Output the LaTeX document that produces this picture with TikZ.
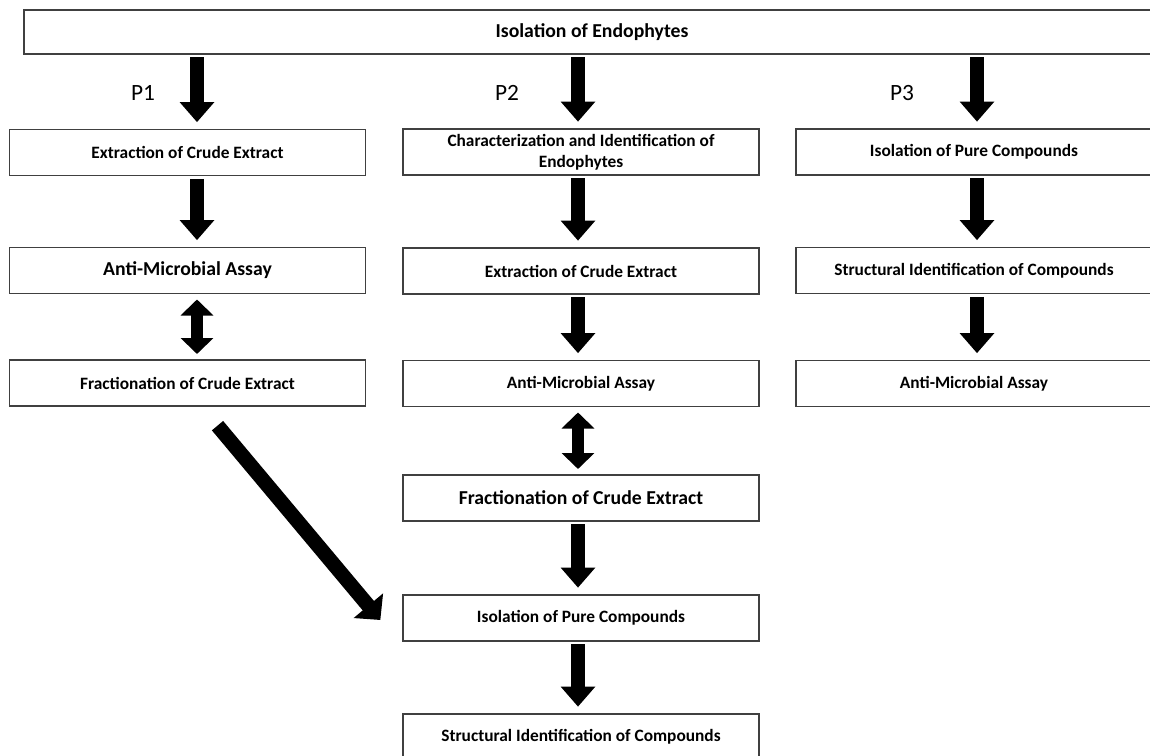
\documentclass[tikz,border=0pt]{standalone}
\usepackage{fontspec}
\setmainfont{Carlito}
\usetikzlibrary{arrows.meta,calc}

\begin{document}
\begin{tikzpicture}[x=0.75pt, y=-0.75pt,
  box/.style={draw=black!75, line width=1pt, fill=white, minimum width=267pt,
    minimum height=34.5pt, inner sep=0pt, align=center,
    font=\bfseries\fontsize{13}{16}\selectfont},
  bigbox/.style={box, font=\bfseries\fontsize{14.8}{17}\selectfont},
  plabel/.style={font=\fontsize{17.5}{20}\selectfont},
  bigarrow/.style={line width=10pt, -{Triangle[width=25pt,length=15pt]},
    shorten <=2pt, shorten >=5pt},
  twoway/.style={line width=8.5pt,
    {Triangle[width=24pt,length=12pt]}-{Triangle[width=24pt,length=12pt]},
    shorten <=4pt, shorten >=4pt},
  slant/.style={line width=11pt, -{Triangle[width=28pt,length=14pt]}},
]
  \useasboundingbox (0,0) rectangle (1150,756);
  \clip (0,0) rectangle (1150,756);

  % Top box
  \node[bigbox, minimum width=852pt, minimum height=33pt] (top) at (592,32) {Isolation of Endophytes};

  % Column lines for the arrows
  \coordinate (c1) at (197,0);
  \coordinate (c2) at (578,0);
  \coordinate (c3) at (977,0);

  % Path labels
  \node[plabel] (lp1) at (143,93) {P1};
  \node[plabel] (lp2) at (507,93) {P2};
  \node[plabel] (lp3) at (902,93) {P3};

  % P1
  \node[box] (p1ext) at (187.5,152.5) {Extraction of Crude Extract};
  \node[bigbox] (p1ama) at (187.5,270.5) {Anti-Microbial Assay};
  \node[box] (p1frac) at (187.5,383) {Fractionation of Crude Extract};

  % P2
  \node[box] (p2char) at (581,152) {Characterization and Identification of\\Endophytes};
  \node[box] (p2ext) at (581,271) {Extraction of Crude Extract};
  \node[box] (p2ama) at (581,383.5) {Anti-Microbial Assay};
  \node[bigbox] (p2frac) at (581,498) {Fractionation of Crude Extract};
  \node[box] (p2iso) at (581,618) {Isolation of Pure Compounds};
  \node[box] (p2struct) at (581,737) {Structural Identification of Compounds};

  % P3
  \node[box] (p3iso) at (974,152) {Isolation of Pure Compounds};
  \node[box] (p3struct) at (974,270.5) {Structural Identification of Compounds};
  \node[box] (p3ama) at (974,383.5) {Anti-Microbial Assay};

  % Arrows from the top box
  \draw[bigarrow] (c1 |- top.south) -- (c1 |- p1ext.north);
  \draw[bigarrow] (c2 |- top.south) -- (c2 |- p2char.north);
  \draw[bigarrow] (c3 |- top.south) -- (c3 |- p3iso.north);

  % Arrows in P1
  \draw[bigarrow] (c1 |- p1ext.south) -- (c1 |- p1ama.north);
  \draw[twoway] (c1 |- p1ama.south) -- (c1 |- p1frac.north);
  \draw[slant] ($(p1frac.south)+(30,19)$) -- ($(p2iso.west)+(-22,2)$);

  % Arrows in P2
  \draw[bigarrow] (c2 |- p2char.south) -- (c2 |- p2ext.north);
  \draw[bigarrow] (c2 |- p2ext.south) -- (c2 |- p2ama.north);
  \draw[twoway] (c2 |- p2ama.south) -- (c2 |- p2frac.north);
  \draw[bigarrow] (c2 |- p2frac.south) -- (c2 |- p2iso.north);
  \draw[bigarrow] (c2 |- p2iso.south) -- (c2 |- p2struct.north);

  % Arrows in P3
  \draw[bigarrow] (c3 |- p3iso.south) -- (c3 |- p3struct.north);
  \draw[bigarrow] (c3 |- p3struct.south) -- (c3 |- p3ama.north);
\end{tikzpicture}
\end{document}
